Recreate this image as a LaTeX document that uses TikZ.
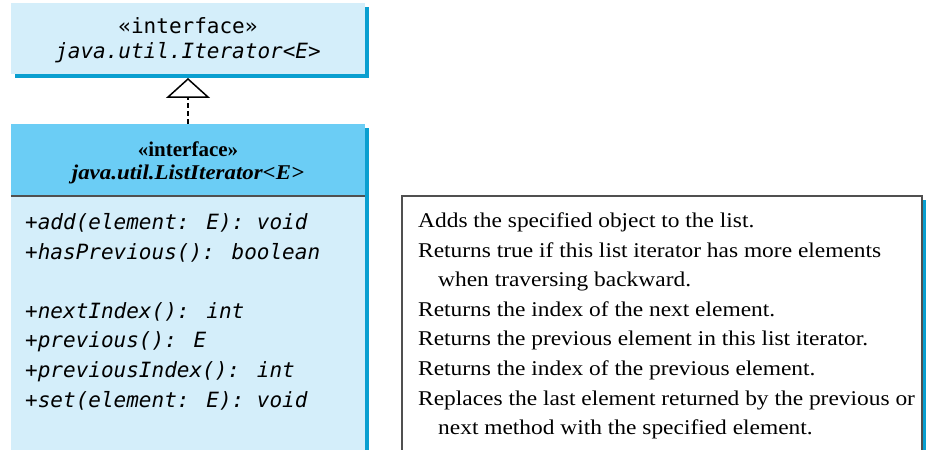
\documentclass[tikz,border=0pt]{standalone}
\usepackage{fontspec}
\setmainfont{Liberation Serif}
\newfontfamily\umlmono{DejaVu Sans Mono}
\newfontfamily\descfont{Liberation Serif}[FakeStretch=1.115]
\newfontfamily\titlefont{Liberation Serif}[FakeStretch=1.09]
\usetikzlibrary{arrows.meta}
\definecolor{lightfill}{HTML}{D4EEFA}
\definecolor{headfill}{HTML}{6BCDF5}
\definecolor{shadowblue}{HTML}{0A9FD0}
\definecolor{bordergray}{HTML}{505050}
\tikzset{
  box/.style={draw=none, inner sep=0pt, outer sep=0pt},
  monotext/.style={inner sep=0pt, anchor=base west, font=\umlmono\itshape\fontsize{21bp}{29bp}\selectfont},
  monotitle/.style={inner sep=0pt, anchor=base, font=\umlmono\fontsize{21bp}{29bp}\selectfont},
  desc/.style={inner sep=0pt, anchor=base west, font=\descfont\fontsize{21bp}{27bp}\selectfont},
  boldtitle/.style={inner sep=0pt, anchor=base, font=\bfseries\fontsize{21bp}{27bp}\selectfont},
}
\begin{document}
\begin{tikzpicture}[x=1bp,y=-1bp]
\useasboundingbox (0,0) rectangle (927,450);
% shadows
\fill[shadowblue] (15,7) rectangle (369,78);
\fill[shadowblue] (15,128) rectangle (369,460);
\fill[shadowblue] (406,200) rectangle (926,460);
% top interface box
\node[box, fill=lightfill, minimum width=354bp, minimum height=71bp] (top) at (188,38.5) {};
\node[monotitle] (topst) at (188,34) {«interface»};
\node[monotitle, font=\umlmono\itshape\fontsize{21bp}{29bp}\selectfont] (topname) at (188,59) {java.util.Iterator<E>};
% bottom interface box
\node[box, fill=headfill, minimum width=354bp, minimum height=72bp] (head) at (188,160) {};
\node[box, fill=lightfill, minimum width=354bp, minimum height=264bp, anchor=north] (body) at (188,196) {};
\draw[bordergray, line width=1.5bp] (head.south west) -- (head.south east);
\node[boldtitle] (botst) at (188,157) {«interface»};
\node[boldtitle, font=\titlefont\bfseries\itshape\fontsize{21bp}{27bp}\selectfont] (botname) at (188,180) {java.util.ListIterator<E>};
% methods
\node[monotext] (m1) at (25,230) {+add(element: E): void};
\node[monotext] (m2) at (25,259.5) {+hasPrevious(): boolean};
\node[monotext] (m3) at (25,318.5) {+nextIndex(): int};
\node[monotext] (m4) at (25,348) {+previous(): E};
\node[monotext] (m5) at (25,377.5) {+previousIndex(): int};
\node[monotext] (m6) at (25,407) {+set(element: E): void};
% description box
\node[box, fill=white, draw=bordergray, line width=1.2bp, minimum width=520bp, minimum height=270bp, anchor=north west] (descbox) at (402,196) {};
\node[desc] (d1) at (418,228) {Adds the specified object to the list.};
\node[desc] (d2) at (418,257.5) {Returns true if this list iterator has more elements};
\node[desc] (d3) at (438,287) {when traversing backward.};
\node[desc] (d4) at (418,316.5) {Returns the index of the next element.};
\node[desc] (d5) at (418,346) {Returns the previous element in this list iterator.};
\node[desc] (d6) at (418,375.5) {Returns the index of the previous element.};
\node[desc] (d7) at (418,405) {Replaces the last element returned by the previous or};
\node[desc] (d8) at (438,434.5) {next method with the specified element.};
% realization arrow
\draw[line width=2.2bp, dash pattern=on 5bp off 3bp, -{Triangle[length=20bp, width=44bp, fill=white, line width=1.5bp]}] (head.north) -- ([yshift=-4bp]top.south);
\end{tikzpicture}
\end{document}
